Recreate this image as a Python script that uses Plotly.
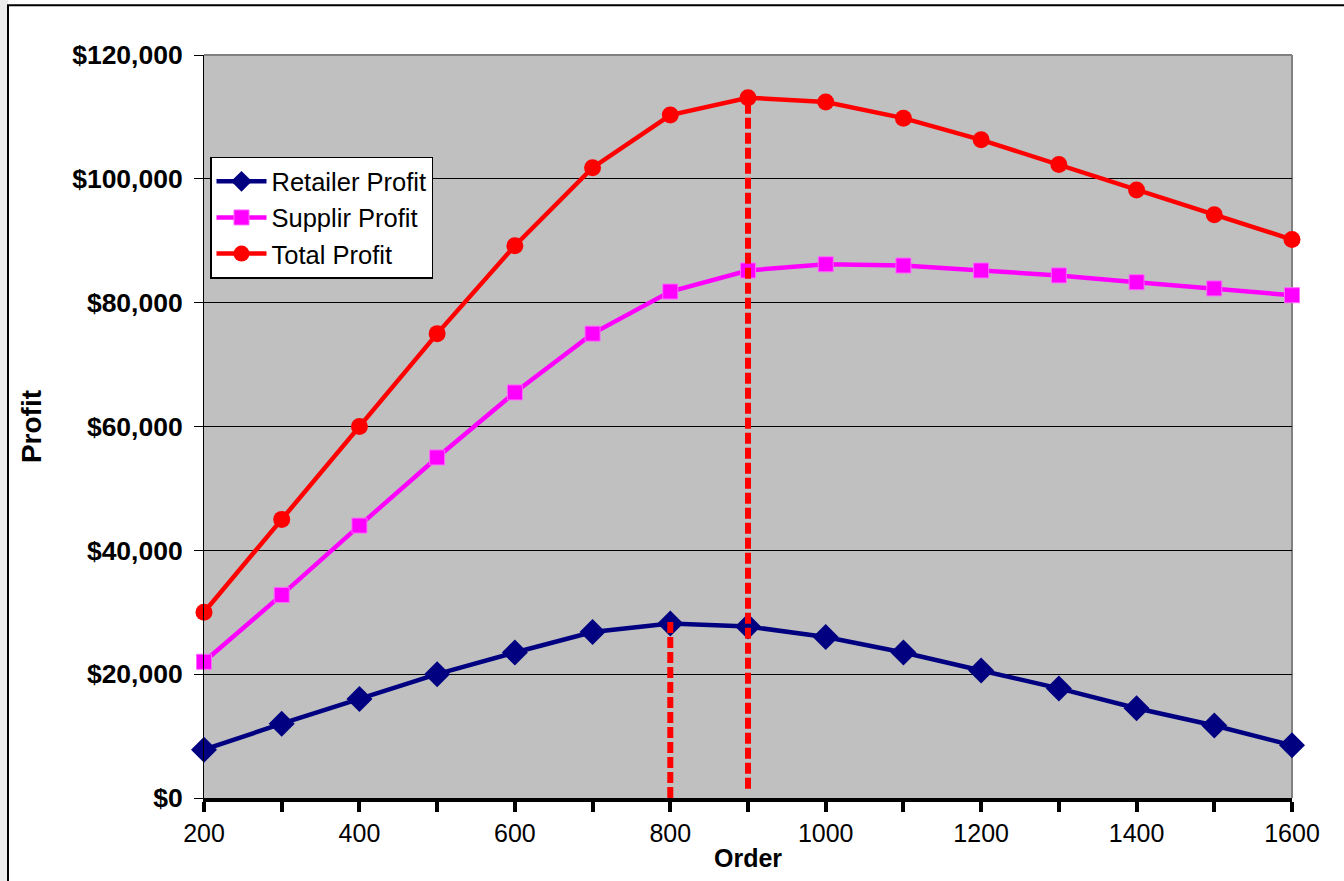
import plotly.graph_objects as go

orders = [200, 300, 400, 500, 600, 700, 800, 900, 1000, 1100, 1200, 1300, 1400, 1500, 1600]
retailer_profit = [7800, 12000, 16000, 20000, 23500, 26800, 28200, 27700, 26000, 23500, 20600, 17700, 14500, 11700, 8500]
supplier_profit = [22000, 32800, 44000, 55000, 65500, 75000, 81800, 85200, 86200, 86000, 85200, 84400, 83300, 82300, 81200]
total_profit = [30000, 45000, 60000, 75000, 89200, 101800, 110300, 113100, 112400, 109800, 106300, 102300, 98200, 94200, 90200]

# reference (optimum) markers: retailer optimum at 800, total optimum at 900
retailer_opt = 800
total_opt = 900

FONT = "Liberation Sans, Arial, sans-serif"

fig = go.Figure()
fig.add_trace(go.Scatter(x=orders, y=retailer_profit, name="Retailer Profit", mode="lines+markers",
                         cliponaxis=False,
                         line=dict(color="#000080", width=4.5),
                         marker=dict(symbol="diamond", size=20, color="#000080")))
fig.add_trace(go.Scatter(x=orders, y=supplier_profit, name="Supplir Profit", mode="lines+markers",
                         cliponaxis=False,
                         line=dict(color="#FF00FF", width=4.5),
                         marker=dict(symbol="square", size=15, color="#FF00FF",
                                     line=dict(color="#FF66FF", width=1))))
fig.add_trace(go.Scatter(x=orders, y=total_profit, name="Total Profit", mode="lines+markers",
                         cliponaxis=False,
                         line=dict(color="#FF0000", width=4.5),
                         marker=dict(symbol="circle", size=17, color="#FF0000")))

r_top = retailer_profit[orders.index(retailer_opt)]
t_top = total_profit[orders.index(total_opt)] + 800
fig.add_trace(go.Scatter(x=[retailer_opt, retailer_opt], y=[0, r_top + 500], mode="lines", showlegend=False,
                         line=dict(color="#FF0000", width=6, dash="11px,4px")))
fig.add_trace(go.Scatter(x=[total_opt, total_opt], y=[1500, t_top], mode="lines", showlegend=False,
                         line=dict(color="#FF0000", width=6, dash="11px,4px")))

W, H = 1344, 881
L, R, T, B = 204, 52, 55, 81
pw, ph = W - L - R, H - T - B

def px(x):
    return (x - L) / pw

def py(y):
    return (H - B - y) / ph

shapes = [
    # left striped sheet strip
    dict(type="rect", xref="paper", yref="paper", x0=px(-5), x1=px(8), y0=py(-10), y1=py(-10 + 900),
         fillcolor="#ececec", line=dict(width=0), layer="below"),
    # outer chart border
    dict(type="rect", xref="paper", yref="paper", x0=px(8), x1=px(1360), y0=py(900), y1=py(5),
         line=dict(color="black", width=2), fillcolor="rgba(0,0,0,0)", layer="below"),
    # plot-area border top & right (gray)
    dict(type="line", xref="paper", yref="paper", x0=0, x1=1, y0=1, y1=1,
         line=dict(color="#808080", width=2), layer="between"),
    dict(type="line", xref="paper", yref="paper", x0=1, x1=1, y0=0, y1=1,
         line=dict(color="#808080", width=2), layer="between"),
]

fig.update_layout(
    width=W, height=H,
    margin=dict(l=L, r=R, t=T, b=B),
    paper_bgcolor="white",
    plot_bgcolor="#C0C0C0",
    font=dict(family=FONT, size=25, color="black"),
    shapes=shapes,
    showlegend=True,
    legend=dict(x=px(210), y=py(157), xanchor="left", yanchor="top",
                bgcolor="white", bordercolor="black", borderwidth=1.5,
                font=dict(family=FONT, size=25.5, color="black"),
                itemwidth=50,
                tracegroupgap=0),
)

fig.update_xaxes(
    range=[200, 1600], tickmode="linear", tick0=200, dtick=200,
    showgrid=False, zeroline=False,
    showline=True, linecolor="black", linewidth=4,
    ticks="outside", ticklen=10, tickwidth=4, tickcolor="black",
    minor=dict(dtick=100, tick0=200, ticks="outside", ticklen=10, tickwidth=4, tickcolor="black", showgrid=False),
    tickfont=dict(family=FONT, size=25),
    title=dict(text="<b>Order</b>", font=dict(family=FONT, size=25), standoff=4),
)
fig.update_yaxes(
    range=[0, 120000], tickmode="linear", tick0=0, dtick=20000,
    tickprefix="$", tickformat=",",
    showgrid=True, gridcolor="black", gridwidth=1,
    zeroline=False,
    showline=True, linecolor="black", linewidth=1,
    ticks="outside", ticklen=9, tickwidth=1, tickcolor="black",
    ticklabelstandoff=6,
    tickfont=dict(family=FONT, size=26.5, weight="bold"),
    title=dict(text="<b>Profit</b>", font=dict(family=FONT, size=28), standoff=22),
)

fig.write_html("out.html")
